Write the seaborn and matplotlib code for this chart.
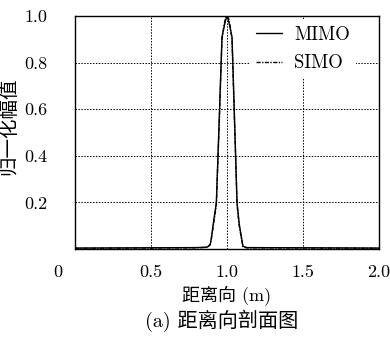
import matplotlib
matplotlib.use("Agg")
import matplotlib.pyplot as plt
import matplotlib.transforms as mtransforms
import seaborn as sns

# range profile
range_m = [0.0, 0.40, 0.80, 0.87, 0.89, 0.90, 0.91, 0.93, 0.95, 0.967, 0.98, 0.99,
           1.00, 1.01, 1.02, 1.033, 1.05, 1.066, 1.08, 1.095, 1.105, 1.13, 1.60, 2.0]
mimo = [0.004, 0.005, 0.006, 0.008, 0.02, 0.06, 0.11, 0.20, 0.58, 0.91, 0.95, 0.98,
        1.00, 0.98, 0.95, 0.91, 0.55, 0.20, 0.11, 0.05, 0.012, 0.006, 0.005, 0.004]
simo = [0.003, 0.004, 0.005, 0.007, 0.018, 0.055, 0.10, 0.19, 0.56, 0.90, 0.96, 0.99,
        1.00, 0.99, 0.96, 0.90, 0.53, 0.19, 0.10, 0.045, 0.010, 0.005, 0.004, 0.003]

x_ticks = [0, 0.5, 1.0, 1.5, 2.0]
x_labels = ["0", "0.5", "1.0", "1.5", "2.0"]
y_ticks = [0.2, 0.4, 0.6, 0.8, 1.0]
y_labels = ["0.2", "0.4", "0.6", "0.8", "1.0"]

sns.set_theme(style="white")
plt.rcParams["font.family"] = ["cmr10", "Noto Sans CJK SC"]
plt.rcParams["axes.formatter.use_mathtext"] = True

fig = plt.figure(figsize=(3.9, 3.38), dpi=100)
ax = fig.add_axes([75 / 390, 1 - 249 / 338, 304 / 390, 233 / 338])

sns.lineplot(x=range_m, y=mimo, ax=ax, color="black", lw=1.0, label="MIMO")
sns.lineplot(x=range_m, y=simo, ax=ax, color="black", lw=1.0,
             dashes=False, linestyle=(0, (3, 1, 1, 1)), label="SIMO")

ax.set_xlim(0, 2.0)
ax.set_ylim(0, 1.0)
ax.set_xticks(x_ticks)
ax.set_xticklabels(x_labels)
ax.set_yticks(y_ticks)
ax.set_yticklabels(y_labels)
ax.tick_params(axis="both", length=0, labelsize=13, colors="black")
ax.tick_params(axis="x", pad=11)
ax.tick_params(axis="y", pad=20)

# the origin label sits left of the corner in the original
lbl0 = ax.get_xticklabels()[0]
lbl0.set_transform(lbl0.get_transform() +
                   mtransforms.ScaledTranslation(-17 / 100, 0, fig.dpi_scale_trans))

ax.grid(True, linestyle=(0, (1.5, 1.5)), color="black", lw=0.7)
for s in ax.spines.values():
    s.set_color("black")
    s.set_linewidth(1.0)

ax.set_xlabel("距离向 (m)", fontsize=13, color="black")
ax.set_ylabel("归一化幅值", fontsize=14, color="black")
ax.xaxis.set_label_coords(152 / 304, -37 / 233)
ax.yaxis.set_label_coords(-57 / 304, 0.5 + 6 / 233)

leg = ax.legend(loc="upper right", bbox_to_anchor=(0.925, 0.985), frameon=True,
                fontsize=13.5, handlelength=1.35, labelspacing=0.55,
                borderaxespad=0, borderpad=0.35, handletextpad=0.65)
leg.get_frame().set_facecolor("white")
leg.get_frame().set_edgecolor("none")
leg.get_frame().set_alpha(1)
for t in leg.get_texts():
    t.set_color("black")

fig.text(222 / 390, 1 - 321 / 338, "(a) 距离向剖面图", ha="center", va="center",
         fontsize=14.5, color="black")

fig.savefig("out.png", dpi=100, facecolor="white")
